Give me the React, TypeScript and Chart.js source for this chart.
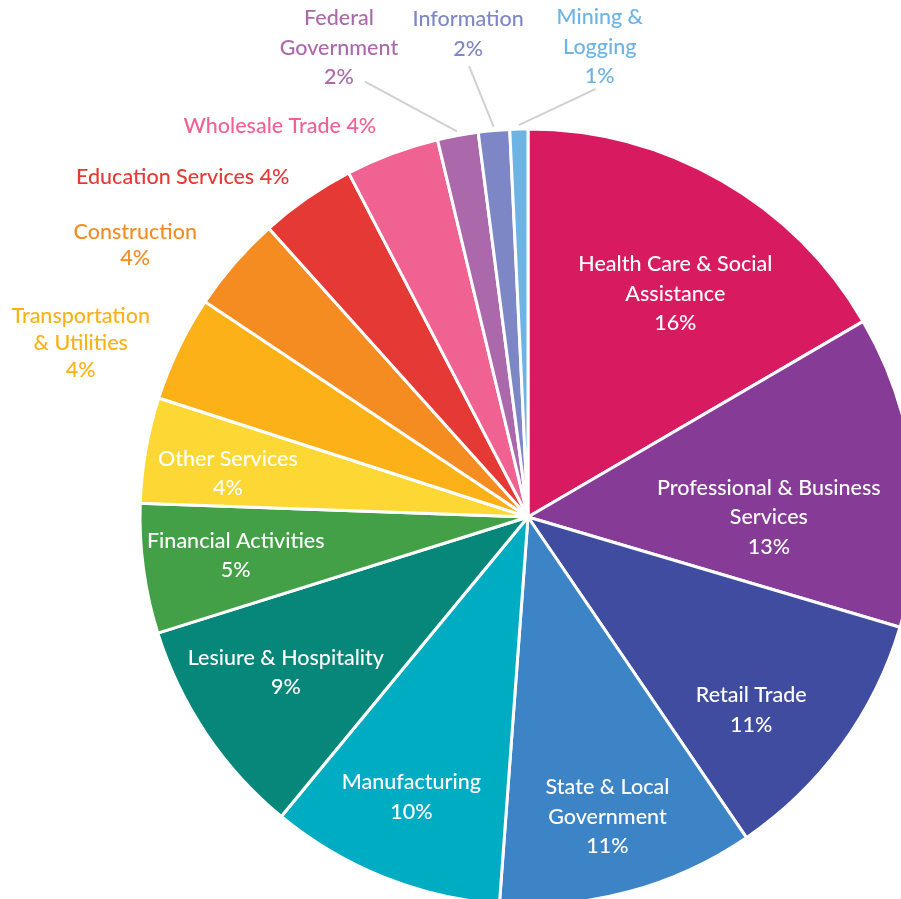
import React, { useEffect, useRef } from 'react';
import { Chart, registerables } from 'chart.js';

Chart.register(...registerables);

// ---- data ----
const categories = [
  'Health Care & Social Assistance',
  'Professional & Business Services',
  'Retail Trade',
  'State & Local Government',
  'Manufacturing',
  'Lesiure & Hospitality',
  'Financial Activities',
  'Other Services',
  'Transportation & Utilities',
  'Construction',
  'Education Services',
  'Wholesale Trade',
  'Federal Government',
  'Information',
  'Mining & Logging',
];
const shares = [16.6, 13.0, 10.9, 10.7, 9.8, 9.2, 5.4, 4.4, 4.4, 4.0, 4.0, 3.9, 1.7, 1.3, 0.75];
const percentLabels = ['16%', '13%', '11%', '11%', '10%', '9%', '5%', '4%', '4%', '4%', '4%', '4%', '2%', '2%', '1%'];
const labelTextLines = [
  ['Health Care & Social', 'Assistance'],
  ['Professional & Business', 'Services'],
  ['Retail Trade'],
  ['State & Local', 'Government'],
  ['Manufacturing'],
  ['Lesiure & Hospitality'],
  ['Financial Activities'],
  ['Other Services'],
  ['Transportation', '& Utilities'],
  ['Construction'],
  ['Education Services'],
  ['Wholesale Trade'],
  ['Federal', 'Government'],
  ['Information'],
  ['Mining &', 'Logging'],
];

// ---- style ----
const sliceColors = [
  '#D81B60', '#863B96', '#3F4C9F', '#3D84C6', '#00ACC1', '#07877A', '#43A047',
  '#FDD835', '#FBB117', '#F58C22', '#E53935', '#F06292', '#AB69AC', '#7E87C5', '#6DB3E3',
];

type Layout = { f: number; dx: number; dy: number; inside: boolean; inline?: boolean; lh?: number; leader?: [number, number] };
const labelLayout: Layout[] = [
  { f: 0.69, dx: 14, dy: 9, inside: true },
  { f: 0.62, dx: 2, dy: 29, inside: true },
  { f: 0.76, dx: -15, dy: 19, inside: true },
  { f: 0.8, dx: -1, dy: 0, inside: true },
  { f: 0.78, dx: -4, dy: -1, inside: true },
  { f: 0.74, dx: -4, dy: -5, inside: true },
  { f: 0.76, dx: 0, dy: -1, inside: true },
  { f: 0.78, dx: -2, dy: 9, inside: true },
  { f: 1.24, dx: -14, dy: 35, inside: false, lh: 27 },
  { f: 1.24, dx: -29, dy: 43, inside: false, lh: 26 },
  { f: 1.25, dx: -69, dy: 59, inside: false, inline: true },
  { f: 1.2, dx: -85, dy: 45, inside: false, inline: true },
  { f: 1.31, dx: -97, dy: 30.5, inside: false, leader: [26, 34] },
  { f: 1.26, dx: -17, dy: 4, inside: false, leader: [1, 32] },
  { f: 1.23, dx: 83, dy: 7, inside: false, leader: [-4, 42] },
];

const FONT = '500 21.5px Lato, "Open Sans", sans-serif';
const LINE_H = 29.5;

const sliceLabelPlugin = {
  id: 'sliceLabels',
  afterDatasetsDraw(chart: any) {
    const ctx: CanvasRenderingContext2D = chart.ctx;
    const meta = chart.getDatasetMeta(0);
    ctx.save();
    meta.data.forEach((arc: any, i: number) => {
      const { x, y, startAngle, endAngle, outerRadius } = arc.getProps(
        ['x', 'y', 'startAngle', 'endAngle', 'outerRadius'],
        true
      );
      const mid = (startAngle + endAngle) / 2;
      const L = labelLayout[i];
      const r = outerRadius * L.f;
      const cx = x + Math.cos(mid) * r + L.dx;
      const cy = y + Math.sin(mid) * r + L.dy;
      const lines = L.inline
        ? [labelTextLines[i].join(' ') + ' ' + percentLabels[i]]
        : [...labelTextLines[i], percentLabels[i]];
      const lh = L.lh ?? LINE_H;

      if (L.leader) {
        const ex = x + Math.cos(mid) * (outerRadius + 4);
        const ey = y + Math.sin(mid) * (outerRadius + 4);
        ctx.beginPath();
        ctx.strokeStyle = '#D0D0D0';
        ctx.lineWidth = 2;
        ctx.moveTo(cx + L.leader[0], cy + L.leader[1]);
        ctx.lineTo(ex, ey);
        ctx.stroke();
      }

      ctx.font = FONT;
      ctx.textAlign = 'center';
      ctx.textBaseline = 'middle';
      ctx.fillStyle = L.inside ? '#FFFFFF' : sliceColors[i];
      const top = cy - ((lines.length - 1) * lh) / 2;
      lines.forEach((t, k) => ctx.fillText(t, cx, top + k * lh));
    });
    ctx.restore();
  },
};

export default function App() {
  const ref = useRef<HTMLCanvasElement | null>(null);

  useEffect(() => {
    if (!ref.current) return;
    const chart = new Chart(ref.current, {
      type: 'pie',
      data: {
        labels: categories,
        datasets: [
          {
            data: shares,
            backgroundColor: sliceColors,
            borderColor: '#FFFFFF',
            borderWidth: 3,
            clip: false as any,
          },
        ],
      },
      options: {
        responsive: false,
        animation: false,
        events: [],
        radius: 388,
        layout: { padding: { left: 155, top: 135, right: 0, bottom: 0 } },
        plugins: {
          legend: { display: false },
          tooltip: { enabled: false },
        },
      } as any,
      plugins: [sliceLabelPlugin],
    });
    return () => chart.destroy();
  }, []);

  return (
    <div
      style={{
        position: 'fixed',
        left: 0,
        top: 0,
        width: 901,
        height: 899,
        overflow: 'hidden',
        background: '#FFFFFF',
      }}
    >
      <canvas ref={ref} width={901} height={899} style={{ display: 'block', width: 901, height: 899 }} />
    </div>
  );
}
